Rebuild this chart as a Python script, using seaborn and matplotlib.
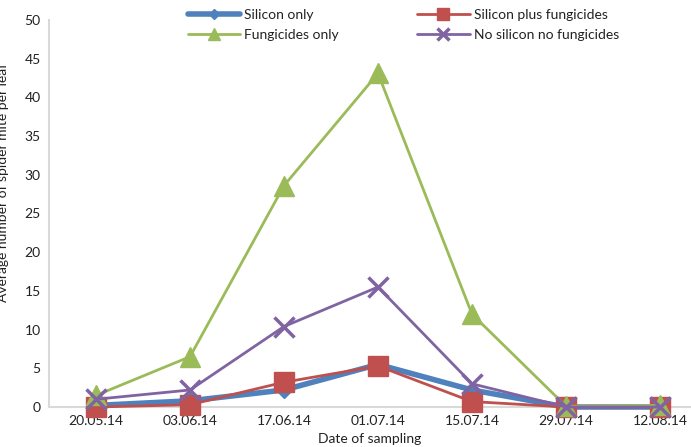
import matplotlib
matplotlib.use("Agg")
import matplotlib.pyplot as plt
import seaborn as sns
import pandas as pd

dates = ["20.05.14", "03.06.14", "17.06.14", "01.07.14", "15.07.14", "29.07.14", "12.08.14"]
silicon_only = [0.2, 0.8, 2.2, 5.5, 2.2, 0.0, 0.0]
silicon_plus_fungicides = [0.0, 0.3, 3.2, 5.3, 0.7, 0.0, 0.0]
fungicides_only = [1.5, 6.5, 28.6, 43.1, 12.0, 0.1, 0.2]
no_silicon_no_fungicides = [1.0, 2.2, 10.4, 15.5, 3.0, 0.0, 0.0]

series = [
    ("Silicon only", silicon_only, "#4F81BD", "D", 8, 4.0),
    ("Silicon plus fungicides", silicon_plus_fungicides, "#C0504D", "s", 14, 2.0),
    ("Fungicides only", fungicides_only, "#9BBB59", "^", 15, 2.0),
    ("No silicon no fungicides", no_silicon_no_fungicides, "#8064A2", "x", 14, 2.0),
]

sns.set_style("white")
plt.rcParams["font.family"] = ["Lato", "DejaVu Sans"]

fig = plt.figure(figsize=(6.91, 4.47), dpi=100)
ax = fig.add_axes([49 / 691, 40 / 447, (691 - 49) / 691, 387 / 447])

handles = {}
for name, vals, color, marker, ms, lw in series:
    df = pd.DataFrame({"pos": range(len(dates)), "value": vals})
    sns.lineplot(data=df, x="pos", y="value", ax=ax, color=color, lw=lw,
                 marker=marker, markersize=ms, markeredgecolor=color,
                 markeredgewidth=2.5 if marker == "x" else 1, label=name,
                 legend=False, clip_on=False)
    handles[name] = ax.lines[-1]

ax.set_xlim(-0.5, 6.33)
ax.set_ylim(0, 50)
ax.set_yticks(range(0, 51, 5))
ax.set_xticks(range(len(dates)))
ax.set_xticklabels(dates)
ax.tick_params(axis="both", length=0, labelsize=10, colors="#222222", pad=6)

for side in ["top", "right"]:
    ax.spines[side].set_visible(False)
for side in ["left", "bottom"]:
    ax.spines[side].set_color("#D9D9D9")
    ax.spines[side].set_linewidth(1.5)
    ax.spines[side].set_zorder(0.5)

ax.set_xlabel("Date of sampling", fontsize=10, color="#222222", labelpad=4)
ax.set_ylabel("Average number of spider mite per leaf", fontsize=10, color="#222222")
ax.yaxis.set_label_coords(-0.062, 0.58)

order = ["Silicon only", "Fungicides only", "Silicon plus fungicides", "No silicon no fungicides"]
leg = fig.legend([handles[n] for n in order], order, ncol=2, loc="upper left",
                 bbox_to_anchor=(175 / 691, 1.008), frameon=False, fontsize=10,
                 handlelength=3.8, columnspacing=5.6, labelspacing=0.6,
                 handletextpad=0.3, markerscale=0.6)
for t in leg.get_texts():
    t.set_color("#222222")

fig.savefig("out.png", dpi=100)
